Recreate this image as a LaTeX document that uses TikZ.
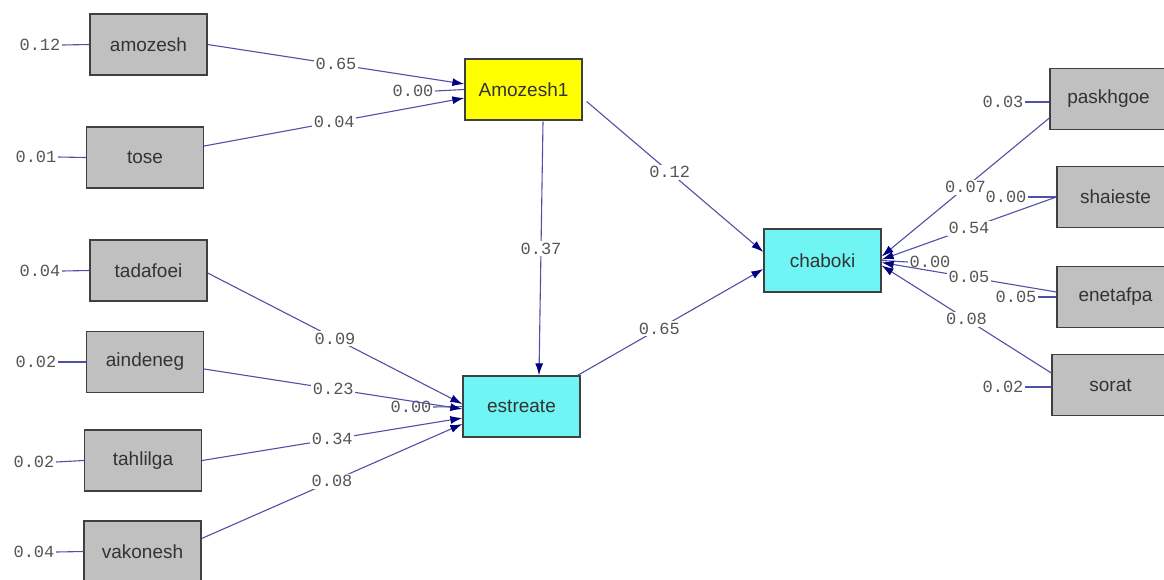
\documentclass[tikz,border=0pt]{standalone}
\usepackage{fontspec}
\setmainfont{Liberation Sans}
\newfontfamily\numfont{Liberation Mono}
\usetikzlibrary{arrows.meta,calc}
\definecolor{boxgray}{HTML}{C0C0C0}
\definecolor{boxedge}{HTML}{404040}
\definecolor{linecol}{HTML}{5050A8}
\definecolor{tipcol}{HTML}{000080}
\definecolor{numcol}{HTML}{555555}
\definecolor{latyellow}{HTML}{FFFF00}
\definecolor{latcyan}{HTML}{70F4F4}
\tikzset{
  obs/.style={draw=boxedge, line width=1.3pt, fill=boxgray, minimum width=117pt, minimum height=61pt, inner sep=0pt, font=\fontsize{19}{19}\selectfont, text=black!80},
  lat/.style={obs, fill=latcyan},
  num/.style={font=\numfont\fontsize{17}{17}\selectfont, text=numcol, inner sep=1.5pt},
  lbl/.style={num, fill=white, midway},
  conn/.style={draw=linecol, line width=1.1pt},
  arr/.style={conn, -{Latex[length=12pt,width=8pt,color=tipcol]}},
}
\begin{document}
\begin{tikzpicture}[x=1pt,y=-1pt]
\clip (0,0) rectangle (1164,579);
\fill[white] (0,0) rectangle (1164,579);

% observed left
\node[obs] (amozesh)  at (148.5,44.5) {amozesh};
\node[obs] (tose)     at (145,157.5) {tose};
\node[obs] (tadafoei) at (148.5,270.5) {tadafoei};
\node[obs] (aindeneg) at (145,362) {aindeneg};
\node[obs] (tahlilga) at (143,460.5) {tahlilga};
\node[obs] (vakonesh) at (142.5,551.5) {vakonesh};

% latent
\node[obs, fill=latyellow] (Amozesh1) at (523.5,89.5) {Amozesh1};
\node[lat] (estreate) at (521.5,406.5) {estreate};
\node[lat, minimum height=63pt] (chaboki) at (822.5,260.5) {chaboki};

% observed right
\node[obs] (paskhgoe) at (1108.5,99) {paskhgoe};
\node[obs] (shaieste) at (1115.5,197) {shaieste};
\node[obs] (enetafpa) at (1115.5,297) {enetafpa};
\node[obs] (sorat)    at (1110.5,385) {sorat};

% error variances left
\node[num] (e1) at (40,45) {0.12};
\node[num] (e2) at (36,157) {0.01};
\node[num] (e3) at (40,271) {0.04};
\node[num] (e4) at (36,362) {0.02};
\node[num] (e5) at (34,462) {0.02};
\node[num] (e6) at (34,552) {0.04};
\draw[conn] (e1.east) -- (amozesh.west);
\draw[conn] (e2.east) -- (tose.west);
\draw[conn] (e3.east) -- (tadafoei.west);
\draw[conn] (e4.east) -- (aindeneg.west);
\draw[conn] (e5.east) -- (tahlilga.west);
\draw[conn] (e6.east) -- (vakonesh.west);

% error variances latent
\node[num] (z1) at (413,91) {0.00};
\node[num] (z2) at (411,407) {0.00};
\node[num] (z3) at (930,262) {0.00};
\draw[conn] (z1.east) -- (Amozesh1.west);
\draw[conn] (z2.east) -- (estreate.west);
\draw[conn] (z3.west) -- (chaboki.east);

% error variances right
\node[num] (r1) at (1003,102) {0.03};
\node[num] (r2) at (1006,197) {0.00};
\node[num] (r3) at (1016,297) {0.05};
\node[num] (r4) at (1003,387) {0.02};
\draw[conn] (r1.east) -- (paskhgoe.west|-r1.east);
\draw[conn] (r2.east) -- (shaieste.west);
\draw[conn] (r3.east) -- (enetafpa.west);
\draw[conn] (r4.east) -- (sorat.west|-r4.east);

% paths to Amozesh1
\draw[arr] (amozesh.east) -- node[lbl] {0.65} ($(Amozesh1.west)+(0,-5.5)$);
\draw[arr] ($(tose.east)+(0,-11.5)$) -- node[lbl] {0.04} ($(Amozesh1.west)+(0,8.5)$);

% paths to estreate
\draw[arr] ($(tadafoei.east)+(0,2.5)$) -- node[lbl] {0.09} ($(estreate.west)+(0,-2.5)$);
\draw[arr] ($(aindeneg.east)+(0,7)$) -- node[lbl] {0.23} ($(estreate.west)+(0,2.5)$);
\draw[arr] (tahlilga.east) -- node[lbl] {0.34} ($(estreate.west)+(0,11.5)$);
\draw[arr] ($(vakonesh.east)+(0,-13)$) -- node[lbl] {0.08} ($(estreate.west)+(0,17.5)$);

% structural
\draw[arr] ($(Amozesh1.south)+(19.5,1)$) -- node[lbl] {0.37} ($(estreate.north)+(17.5,0)$);
\draw[arr] ($(Amozesh1.east)+(4,12)$) -- node[lbl, pos=0.47] {0.12} ($(chaboki.west)+(0,-8.5)$);
\draw[arr] ($(estreate.north east)+(-3,0)$) -- node[lbl, pos=0.44] {0.65} ($(chaboki.west)+(0,8.5)$);

% right indicators to chaboki
\draw[arr] ($(paskhgoe.west)+(0,19)$) -- node[lbl] {0.07} ($(chaboki.east)+(0,-4)$);
\draw[arr] (shaieste.west) -- node[lbl] {0.54} ($(chaboki.east)+(0,-1)$);
\draw[arr] ($(enetafpa.west)+(0,-5)$) -- node[lbl] {0.05} ($(chaboki.east)+(0,2)$);
\draw[arr] ($(sorat.west)+(0,-12)$) -- node[lbl] {0.08} ($(chaboki.east)+(0,5)$);
\end{tikzpicture}
\end{document}
